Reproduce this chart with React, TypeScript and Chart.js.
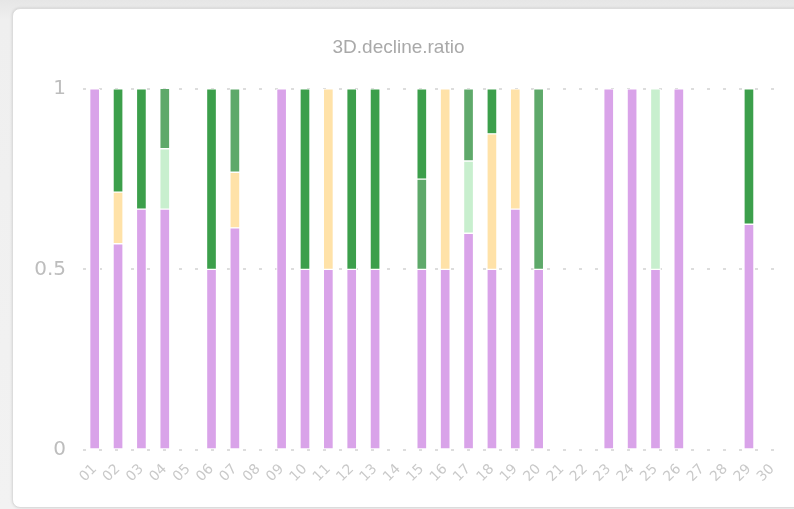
import React, { useEffect, useRef } from "react";
import { Chart, registerables } from "chart.js";

Chart.register(...registerables);

const days = ["01","02","03","04","05","06","07","08","09","10","11","12","13","14","15","16","17","18","19","20","21","22","23","24","25","26","27","28","29","30"];
const yTicks = [0, 0.5, 1];
const titleText = "3D.decline.ratio";

const purpleVals = [1, 0.571, 0.667, 0.667, null, 0.5, 0.615, null, 1, 0.5, 0.5, 0.5, 0.5, null, 0.5, 0.5, 0.6, 0.5, 0.667, 0.5, null, null, 1, 1, 0.5, 1, null, null, 0.625, null];
const orangeVals = [null, 0.143, null, null, null, null, 0.154, null, null, null, 0.5, null, null, null, null, 0.5, null, 0.375, 0.333, null, null, null, null, null, null, null, null, null, null, null];
const lightGreenVals = [null, null, null, 0.167, null, null, null, null, null, null, null, null, null, null, null, null, 0.2, null, null, null, null, null, null, null, 0.5, null, null, null, null, null];
const midGreenVals = [null, null, null, 0.167, null, null, 0.231, null, null, null, null, null, null, null, 0.25, null, 0.2, null, null, 0.5, null, null, null, null, null, null, null, null, null, null];
const darkGreenVals = [null, 0.286, 0.333, null, null, 0.5, null, null, null, 0.5, null, 0.5, 0.5, null, 0.25, null, null, 0.125, null, null, null, null, null, null, null, null, null, null, 0.375, null];

const TITLE_FONT = "'Liberation Sans', Arial, sans-serif";
const TICK_FONT = "'DejaVu Sans', Verdana, sans-serif";

export default function App() {
  const ref = useRef<HTMLCanvasElement | null>(null);

  useEffect(() => {
    if (!ref.current) return;
    const mk = (label: string, data: (number | null)[], color: string) => ({
      label,
      data,
      backgroundColor: color,
      borderColor: "#ffffff",
      borderWidth: 1,
      borderSkipped: false as const,
      barThickness: 10,
    });
    const chart = new Chart(ref.current, {
      type: "bar",
      data: {
        labels: days,
        datasets: [
          mk("a", purpleVals, "#d9a3e9"),
          mk("b", orangeVals, "#ffe2a8"),
          mk("c", lightGreenVals, "#c8efce"),
          mk("d", midGreenVals, "#5ea96a"),
          mk("e", darkGreenVals, "#3c9f4b"),
        ],
      },
      options: {
        animation: false,
        responsive: false,
        maintainAspectRatio: false,
        layout: { padding: { left: 0, right: 19, top: 0, bottom: 0 } },
        plugins: {
          legend: { display: false },
          tooltip: { enabled: false },
          title: {
            display: true,
            text: titleText,
            color: "#a9a9a9",
            font: { family: TITLE_FONT, size: 19, weight: "normal" },
            padding: { top: 27, bottom: 30 },
          },
        },
        scales: {
          x: {
            stacked: true,
            grid: { display: false },
            border: { display: false },
            ticks: {
              autoSkip: false,
              minRotation: 45,
              maxRotation: 45,
              color: "#c9c9c9",
              font: { family: TICK_FONT, size: 14 },
              padding: 3,
            },
            afterFit: (s: any) => { s.height = 57; },
          },
          y: {
            stacked: true,
            min: 0,
            max: 1,
            afterBuildTicks: (s: any) => { s.ticks = yTicks.map((v) => ({ value: v })); },
            grid: {
              color: "#dddddd",
              drawTicks: false,
              lineWidth: 2,
            },
            border: { display: false, dash: [3, 13] },
            ticks: {
              color: "#bdbdbd",
              font: { family: TICK_FONT, size: 20 },
              padding: 17,
              callback: (v: any) => String(v),
            },
            afterFit: (s: any) => { s.width = 70; },
          },
        },
      },
    });
    return () => chart.destroy();
  }, []);

  return (
    <div style={{ position: "fixed", left: 0, top: 0, width: 794, height: 509, overflow: "hidden", background: "linear-gradient(#e6e6e6, #efefef 20px, #f2f2f2)" }}>
      <div style={{ position: "absolute", left: 12, top: 8, width: 800, height: 498, background: "#fff", borderRadius: 8, border: "1px solid #dcdcdc", boxShadow: "0 0 3px rgba(0,0,0,0.12)" }}>
        <canvas ref={ref} width={790} height={498} style={{ position: "absolute", left: 0, top: 0, width: 790, height: 498 }} />
      </div>
    </div>
  );
}
